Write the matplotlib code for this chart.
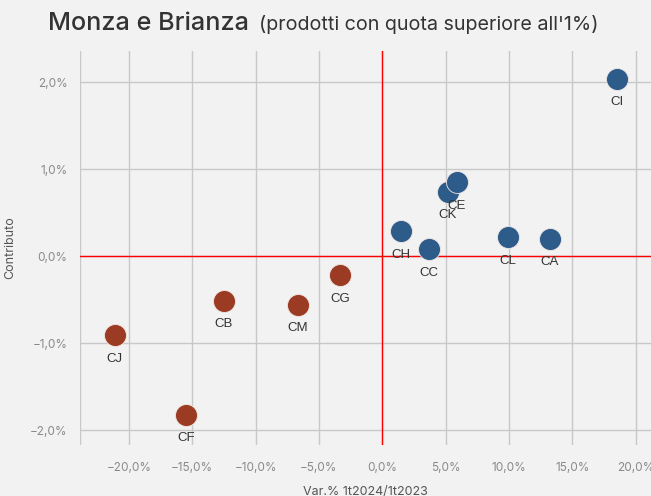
import matplotlib.pyplot as plt
from matplotlib.ticker import FuncFormatter

# data (percent)
neg_codes = ["CJ", "CF", "CB", "CM", "CG"]
neg_var = [-21.1, -15.45, -12.5, -6.65, -3.35]
neg_contrib = [-0.91, -1.82, -0.51, -0.56, -0.22]

pos_codes = ["CH", "CC", "CK", "CE", "CL", "CA", "CI"]
pos_var = [1.44, 3.67, 5.15, 5.86, 9.89, 13.22, 18.5]
pos_contrib = [0.29, 0.08, 0.74, 0.85, 0.22, 0.20, 2.04]

x_ticks = [-20, -15, -10, -5, 0, 5, 10, 15, 20]
y_ticks = [-2, -1, 0, 1, 2]

BG = "#f2f2f2"
BLUE = "#2d5b8a"
RED = "#9c3b23"

plt.rcParams["font.family"] = ["Inter", "DejaVu Sans"]

fig = plt.figure(figsize=(6.51, 4.96), dpi=100, facecolor=BG)
ax = fig.add_axes([80 / 651, 1 - 445 / 496, 1 - 80 / 651, (445 - 51) / 496])
ax.set_facecolor(BG)

ax.set_xlim(-23.85, 21.2)
ax.set_ylim(-2.17, 2.357)
ax.set_xticks(x_ticks)
ax.set_yticks(y_ticks)

pct = FuncFormatter(lambda v, _: f"{v:.1f}%".replace(".", ",").replace("-", "\u2212"))
ax.xaxis.set_major_formatter(pct)
ax.yaxis.set_major_formatter(pct)
ax.tick_params(length=0, colors="#8a8a8a", labelsize=8.5)
ax.tick_params(axis="x", pad=12)
ax.tick_params(axis="y", pad=9)

ax.grid(color="#c8c8c8", linewidth=1)
ax.set_axisbelow(True)
for spine in ax.spines.values():
    spine.set_visible(False)
ax.axvline(-23.85, color="#c8c8c8", linewidth=1, zorder=0)

ax.axhline(0, color="red", linewidth=1, zorder=1)
ax.axvline(0, color="red", linewidth=1, zorder=1)

for xs, ys, codes, color in [
    (neg_var, neg_contrib, neg_codes, RED),
    (pos_var, pos_contrib, pos_codes, BLUE),
]:
    ax.scatter(xs, ys, s=250, color=color, edgecolors="#f2e8e4", linewidths=0.6, zorder=3)
    for x, y, code in zip(xs, ys, codes):
        ax.annotate(code, (x, y), xytext=(0, -17), textcoords="offset points",
                    ha="center", va="center", fontsize=9.5, color="#333333",
                    family=["Liberation Sans", "DejaVu Sans"], zorder=4)

ax.set_ylabel("Contributo", fontsize=9, color="#555555", labelpad=10)
ax.set_xlabel("Var.% 1t2024/1t2023", fontsize=9, color="#555555", labelpad=9)

fig.text(48 / 651, 1 - 30 / 496, "Monza e Brianza", fontsize=18.2, color="#333333",
         fontweight="medium", ha="left", va="baseline")
fig.text(259 / 651, 1 - 30 / 496, "(prodotti con quota superiore all'1%)", fontsize=14.2,
         color="#333333", ha="left", va="baseline")

fig.savefig("out.png", dpi=100, facecolor=BG)
